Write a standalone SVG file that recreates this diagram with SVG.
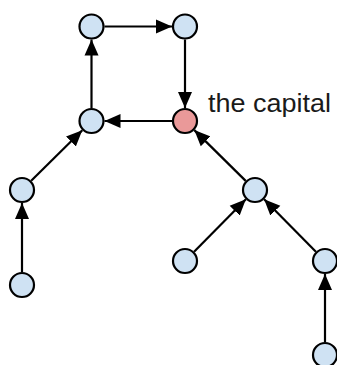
<svg xmlns="http://www.w3.org/2000/svg" width="337" height="365" viewBox="0 0 337 365">
<style>
.n{fill:#cfe2f3;stroke:#000;stroke-width:2.2}
.cap{fill:#ea9999;stroke:#000;stroke-width:2.2}
.e{stroke:#000;stroke-width:2.2;fill:none;marker-end:url(#ah)}
.lbl{font-family:"Liberation Sans",Arial,sans-serif;font-size:25px;fill:#1a1a1a}
</style>
<defs>
<marker id="ah" markerUnits="userSpaceOnUse" markerWidth="17" markerHeight="15" refX="16" refY="7.5" orient="auto">
<path d="M0,0.5 L16,7.5 L0,14.5 Z" fill="#000"/>
</marker>
</defs>
<rect width="337" height="365" fill="#fff"/>
<g id="edges">
<line class="e" x1="104.5" y1="26.5" x2="172" y2="26.5"/>
<line class="e" x1="185" y1="39.5" x2="185" y2="108"/>
<line class="e" x1="172" y1="121" x2="104.5" y2="121"/>
<line class="e" x1="91.5" y1="108" x2="91.5" y2="39.5"/>
<line class="e" x1="31.2" y1="180.8" x2="82.3" y2="130.2"/>
<line class="e" x1="22" y1="272" x2="22" y2="203"/>
<line class="e" x1="245.7" y1="180.9" x2="194.3" y2="130.1"/>
<line class="e" x1="194.1" y1="251.7" x2="245.9" y2="199.3"/>
<line class="e" x1="315.9" y1="251.7" x2="264.1" y2="199.3"/>
<line class="e" x1="325" y1="342" x2="325" y2="274"/>
</g>
<g id="nA"><circle class="n" cx="91.5" cy="26.5" r="12"/></g>
<g id="nB"><circle class="n" cx="185" cy="26.5" r="12"/></g>
<g id="nC"><circle class="n" cx="91.5" cy="121" r="12"/></g>
<g id="capital"><circle class="cap" cx="185" cy="121" r="12"/><text class="lbl" x="208" y="111.5" textLength="123" lengthAdjust="spacingAndGlyphs">the capital</text></g>
<g id="nD"><circle class="n" cx="22" cy="190" r="12"/></g>
<g id="nE"><circle class="n" cx="22" cy="285" r="12"/></g>
<g id="nF"><circle class="n" cx="255" cy="190" r="12"/></g>
<g id="nG"><circle class="n" cx="185" cy="261" r="12"/></g>
<g id="nH"><circle class="n" cx="325" cy="261" r="12"/></g>
<g id="nI"><circle class="n" cx="325" cy="355" r="12"/></g>
</svg>
